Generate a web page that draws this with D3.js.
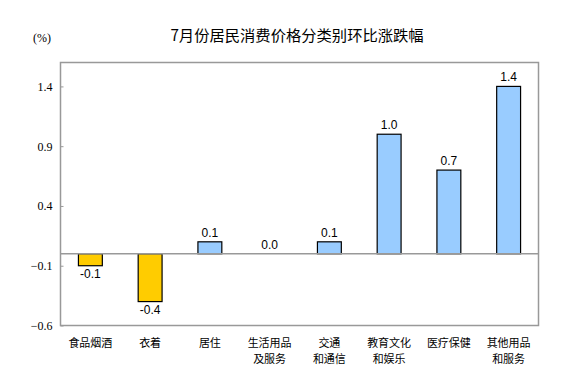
<!DOCTYPE html>
<html><head><meta charset="utf-8">
<script src="https://cdn.jsdelivr.net/npm/d3@7"></script>
<style>body{margin:0;background:#fff}</style>
</head><body>
<svg id="c" width="586" height="385"></svg>
<script>
const categories = [["食品烟酒"],["衣着"],["居住"],["生活用品","及服务"],["交通","和通信"],["教育文化","和娱乐"],["医疗保健"],["其他用品","和服务"]];
const values = [-0.1,-0.4,0.1,0.0,0.1,1.0,0.7,1.4];
const tickValues = [-0.6,-0.1,0.4,0.9,1.4];
const title = "7月份居民消费价格分类别环比涨跌幅";
const unit = "(%)";

const svg = d3.select("#c");
const L=60.5,R=538.5,T=62.5,B=325.5;
const x = d3.scaleBand().domain(d3.range(categories.length)).range([L,R]).paddingInner(0.6).paddingOuter(0.3);
const y = d3.scaleLinear().domain([-0.6,1.6]).range([B,T]);
const cjk = "'Noto Sans CJK SC', sans-serif";

svg.append("text").attr("x",297).attr("y",41).attr("text-anchor","middle")
  .attr("font-family",cjk).attr("font-size",15.3).attr("fill","#000").text(title);
svg.append("text").attr("x",33).attr("y",42).attr("font-family","'Liberation Serif', serif")
  .attr("font-size",12).text(unit);

svg.append("rect").attr("x",L).attr("y",T).attr("width",R-L).attr("height",B-T)
  .attr("fill","none").attr("stroke","#999").attr("stroke-width",1.5);

const ax = svg.append("g").attr("transform",`translate(${L},0)`)
  .call(d3.axisRight(y).tickValues(tickValues).tickSize(3).tickFormat(d3.format(".1f")));
ax.select(".domain").remove();
ax.selectAll("line").attr("stroke","#999");
ax.selectAll("text").attr("x",-8).attr("text-anchor","end")
  .attr("font-family","'Liberation Serif', serif").attr("font-size",12).attr("fill","#000");

svg.selectAll("rect.bar").data(values).join("rect").attr("class","bar")
  .attr("x",(d,i)=>x(i)).attr("width",x.bandwidth())
  .attr("y",d=>y(Math.max(0,d))).attr("height",d=>Math.abs(y(d)-y(0)))
  .attr("fill",d=>d<0?"#FFCC00":"#99CCFF").attr("stroke","#000").attr("stroke-width",1.2);

svg.append("line").attr("x1",L).attr("x2",R).attr("y1",y(0)).attr("y2",y(0))
  .attr("stroke","#999").attr("stroke-width",1.5);

svg.selectAll("text.val").data(values).join("text").attr("class","val")
  .attr("x",(d,i)=>x(i)+x.bandwidth()/2)
  .attr("y",d=>d<0?y(d)+12:y(d)-5)
  .attr("text-anchor","middle").attr("font-family","'Liberation Sans', Arial, sans-serif")
  .attr("font-size",12).attr("fill","#000").text(d=>d.toFixed(1));

const ct = svg.selectAll("text.cat").data(categories).join("text").attr("class","cat")
  .attr("text-anchor","middle").attr("font-family",cjk).attr("font-size",11).attr("fill","#000")
  .attr("transform",(d,i)=>`translate(${x(i)+x.bandwidth()/2},347)`);
ct.selectAll("tspan").data(d=>d).join("tspan")
  .attr("x",0).attr("dy",(d,j)=>j===0?0:16).text(d=>d);
</script>
</body></html>
